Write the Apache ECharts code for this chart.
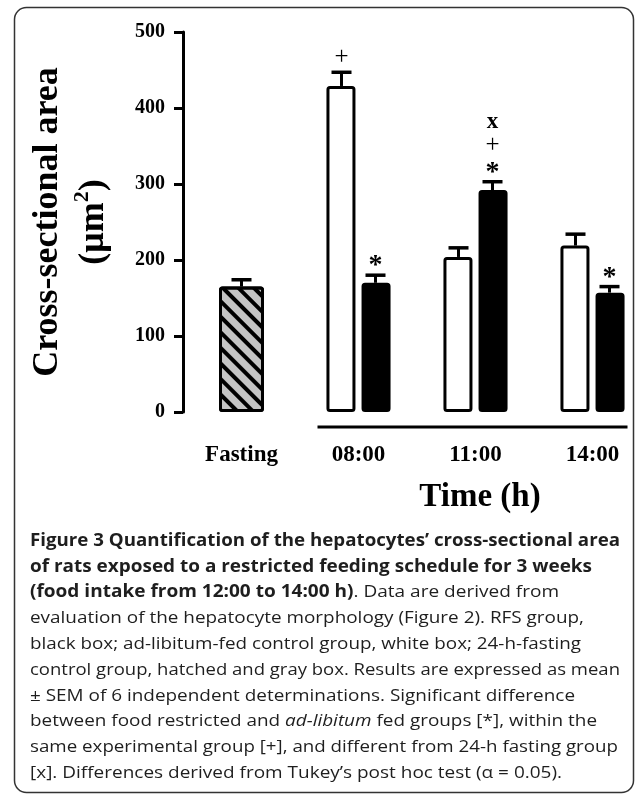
<!DOCTYPE html>
<html>
<head>
<meta charset="utf-8">
<script src="https://cdn.jsdelivr.net/npm/echarts@6/dist/echarts.min.js"></script>
<style>
html,body{margin:0;padding:0;background:#fff;}
#chart{width:636px;height:795px;}
</style>
</head>
<body>
<div id="chart"></div>
<script>
// ---------- data ----------
const categories = ['Fasting', '08:00', '11:00', '14:00'];
const fastingMean = [165, null, null, null];
const fastingSem  = [9, null, null, null];
const adLibMean   = [null, 429, 204, 219];
const adLibSem    = [null, 18, 12, 15];
const rfsMean     = [null, 170, 292, 157];
const rfsSem      = [null, 10, 11, 8];
const adLibMarks  = [[], ['+'], [], []];
const rfsMarks    = [[], ['*'], ['*', '+', 'x'], ['*']];
const yTicks      = [0, 100, 200, 300, 400, 500];
const yAxisTitle  = 'Cross-sectional area';
const yAxisUnit   = ['(μm', '2', ')'];
const xAxisTitle  = 'Time (h)';
const captionLines = [
  [['b', 'Figure 3 Quantification of the hepatocytes’ cross-sectional area']],
  [['b', 'of rats exposed to a restricted feeding schedule for 3 weeks']],
  [['b', '(food intake from 12:00 to 14:00 h)'], ['r', '. Data are derived from']],
  [['r', 'evaluation of the hepatocyte morphology (Figure 2). RFS group,']],
  [['r', 'black box; ad-libitum-fed control group, white box; 24-h-fasting']],
  [['r', 'control group, hatched and gray box. Results are expressed as mean']],
  [['r', '± SEM of 6 independent determinations. Significant difference']],
  [['r', 'between food restricted and '], ['i', 'ad-libitum'], ['r', ' fed groups [*], within the']],
  [['r', 'same experimental group [+], and different from 24-h fasting group']],
  [['r', '[x]. Differences derived from Tukey’s post hoc test (α = 0.05).']]
];

// ---------- layout / style ----------
const captionWidths = [590, 562, 529, 554, 551, 590, 545, 567, 588, 532];
const captionLeft = 30, captionTop = 541, captionStep = 25.8;
const serif = 'Liberation Serif';
const capFontSize = 17;
const capRich = {
  b: {fontFamily: 'Open Sans', fontWeight: 'bold', fontSize: capFontSize, fill: '#1e1e1e'},
  r: {fontFamily: 'Open Sans', fontWeight: 'normal', fontSize: capFontSize, fill: '#1e1e1e'},
  i: {fontFamily: 'Open Sans', fontWeight: 'normal', fontStyle: 'italic', fontSize: capFontSize, fill: '#1e1e1e'}
};
const capCss = {
  b: 'bold ' + capFontSize + 'px "Open Sans"',
  r: capFontSize + 'px "Open Sans"',
  i: 'italic ' + capFontSize + 'px "Open Sans"'
};
const markFont = {
  '+': 'normal 25px "Liberation Serif"',
  '*': 'bold 28px "Liberation Serif"',
  'x': 'bold 23px "Liberation Serif"'
};
const markShift = {'+': 0, '*': 6, 'x': 0};
const markOffsets = [15, 36, 60];

const chart = echarts.init(document.getElementById('chart'), null, {renderer: 'canvas'});

function errorSeries(name, mean, sem, marks, offset, xAxisIndex) {
  const data = [];
  categories.forEach((c, i) => {
    if (mean[i] != null) data.push([i, mean[i], mean[i] + sem[i]]);
  });
  return {
    type: 'custom',
    name: name,
    xAxisIndex: xAxisIndex,
    yAxisIndex: 0,
    z: 5,
    silent: true,
    clip: false,
    data: data,
    encode: {x: 0, y: [1, 2]},
    renderItem: function (params, api) {
      const i = api.value(0);
      const base = api.coord([i, api.value(1)]);
      const top = api.coord([i, api.value(2)]);
      const x = base[0] + offset;
      const children = [
        {type: 'line', shape: {x1: x, y1: base[1], x2: x, y2: top[1]}, style: {stroke: '#000', lineWidth: 3}},
        {type: 'line', shape: {x1: x - 10, y1: top[1], x2: x + 10, y2: top[1]}, style: {stroke: '#000', lineWidth: 3.5}}
      ];
      (marks[i] || []).forEach((m, k) => {
        children.push({
          type: 'text',
          x: x,
          y: top[1] - markOffsets[k] + markShift[m],
          style: {text: m, font: markFont[m], fill: '#000', align: 'center', verticalAlign: 'middle',
                  textAlign: 'center', textVerticalAlign: 'middle'}
        });
      });
      return {type: 'group', children: children};
    }
  };
}

const option = {
  animation: false,
  backgroundColor: '#fff',
  grid: {left: 183, width: 468, top: 32, height: 380, containLabel: false, outerBoundsMode: 'none'},
  xAxis: [
    {
      type: 'category', data: categories, boundaryGap: true,
      axisLine: {show: false}, axisTick: {show: false}, splitLine: {show: false},
      axisLabel: {fontFamily: serif, fontWeight: 'bold', fontSize: 23, color: '#000', margin: 32}
    },
    {
      type: 'category', data: categories, boundaryGap: true, show: false
    }
  ],
  yAxis: {
    type: 'value',
    min: yTicks[0], max: yTicks[yTicks.length - 1], interval: yTicks[1] - yTicks[0],
    axisLine: {show: true, lineStyle: {color: '#000', width: 3}},
    axisTick: {show: true, length: 9, lineStyle: {color: '#000', width: 3}},
    splitLine: {show: false},
    axisLabel: {fontFamily: serif, fontWeight: 'bold', fontSize: 20, color: '#000', margin: 18},
    name: '{a|' + yAxisTitle + '}\n{a|' + yAxisUnit[0] + '}{s|' + yAxisUnit[1] + '}{a|' + yAxisUnit[2] + '}',
    nameLocation: 'middle',
    nameRotate: 90,
    nameGap: 66,
    nameTextStyle: {
      rich: {
        a: {fontFamily: serif, fontWeight: 'bold', fontSize: 36, lineHeight: 46, color: '#000'},
        s: {fontFamily: serif, fontWeight: 'bold', fontSize: 22, lineHeight: 22, verticalAlign: 'top', color: '#000'}
      }
    }
  },
  series: [
    {
      type: 'bar', name: '24-h fasting', xAxisIndex: 1, yAxisIndex: 0,
      data: fastingMean, barWidth: 45,
      itemStyle: {
        color: '#c4c4c4', borderColor: '#000', borderWidth: 3, borderRadius: 2,
        decal: {symbol: 'rect', symbolSize: 1, dashArrayX: [1, 0], dashArrayY: [3.5, 6.5], rotation: Math.PI / 4, color: '#000'}
      }
    },
    {
      type: 'bar', name: 'ad libitum', xAxisIndex: 0, yAxisIndex: 0,
      data: adLibMean, barWidth: 29, barGap: '21%',
      itemStyle: {color: '#fff', borderColor: '#000', borderWidth: 3, borderRadius: 2}
    },
    {
      type: 'bar', name: 'RFS', xAxisIndex: 0, yAxisIndex: 0,
      data: rfsMean, barWidth: 29, barGap: '21%',
      itemStyle: {color: '#000', borderColor: '#000', borderWidth: 3, borderRadius: 2}
    },
    errorSeries('fasting err', fastingMean, fastingSem, [[], [], [], []], 0, 1),
    errorSeries('ad libitum err', adLibMean, adLibSem, adLibMarks, -17, 0),
    errorSeries('RFS err', rfsMean, rfsSem, rfsMarks, 17, 0)
  ]
};
chart.setOption(option);

// ---------- decorations (frame, time bracket, axis title, caption) ----------
const measureCtx = document.createElement('canvas').getContext('2d');
function lineWidthOf(segs) {
  let w = 0;
  segs.forEach(s => { measureCtx.font = capCss[s[0]]; w += measureCtx.measureText(s[1]).width; });
  return w;
}
const c1 = chart.convertToPixel({xAxisIndex: 0}, categories[1]);
const c3 = chart.convertToPixel({xAxisIndex: 0}, categories[3]);
const y0 = chart.convertToPixel({yAxisIndex: 0}, 0);

const graphics = [
  {type: 'rect', shape: {x: 14.5, y: 7.5, width: 619, height: 785, r: 12},
   style: {fill: 'none', stroke: '#333', lineWidth: 1.5}, z: 0},
  {type: 'line', shape: {x1: c1 - 41, y1: y0 + 15, x2: c3 + 35, y2: y0 + 15},
   style: {stroke: '#000', lineWidth: 3}},
  {type: 'text', x: 480, y: 497,
   style: {text: xAxisTitle, font: 'bold 33px "Liberation Serif"', fill: '#000',
           align: 'center', verticalAlign: 'middle', textAlign: 'center', textVerticalAlign: 'middle'}}
];
captionLines.forEach((segs, k) => {
  const natural = lineWidthOf(segs);
  const sx = captionWidths[k] / natural;
  graphics.push({
    type: 'text', x: captionLeft, y: captionTop + k * captionStep, scaleX: sx,
    style: {
      text: segs.map(s => '{' + s[0] + '|' + s[1] + '}').join(''),
      rich: capRich,
      align: 'left', verticalAlign: 'middle', textAlign: 'left', textVerticalAlign: 'middle'
    }
  });
});
chart.setOption({graphic: graphics});
</script>
</body>
</html>
